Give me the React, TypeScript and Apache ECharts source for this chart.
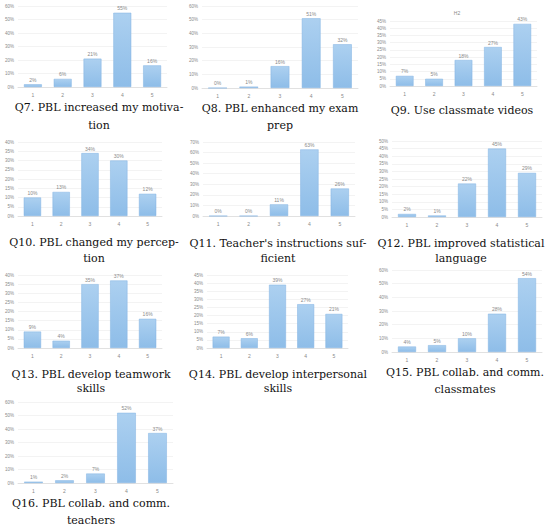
import React, { useEffect, useRef } from "react";
import * as echarts from "echarts";

const categories = ["1", "2", "3", "4", "5"];

const q7 = [2, 6, 21, 55, 16];
const q8 = [0, 1, 16, 51, 32];
const q9 = [7, 5, 18, 27, 43];
const q10 = [10, 13, 34, 30, 12];
const q11 = [0, 0, 11, 63, 26];
const q12 = [2, 1, 22, 45, 29];
const q13 = [9, 4, 35, 37, 16];
const q14 = [7, 6, 39, 27, 21];
const q15 = [4, 5, 10, 28, 54];
const q16 = [1, 2, 7, 52, 37];

const seriesData = [q7, q8, q9, q10, q11, q12, q13, q14, q15, q16];
const yMax = [60, 60, 45, 40, 70, 50, 40, 45, 60, 60];
const yStep = [10, 10, 5, 5, 10, 5, 5, 5, 10, 10];

const titles = [
  ["Q7. PBL increased my motiva-", "tion"],
  ["Q8. PBL enhanced my exam", "prep"],
  ["Q9. Use classmate videos"],
  ["Q10. PBL changed my percep-", "tion"],
  ["Q11. Teacher's instructions suf-", "ficient"],
  ["Q12. PBL improved statistical", "language"],
  ["Q13. PBL develop teamwork", "skills"],
  ["Q14. PBL develop interpersonal", "skills"],
  ["Q15. PBL collab. and comm.", "classmates"],
  ["Q16. PBL collab. and comm.", "teachers"],
];

// layout: grid [left, top, width, height], title center x, title line ys
const grids = [
  [18, 6, 149, 81],
  [202, 6, 156, 82],
  [390, 21, 147, 65],
  [18, 142, 144, 74],
  [203, 142, 152, 74],
  [392, 141, 150, 76],
  [18, 275, 144, 73],
  [207, 275, 141, 73],
  [392, 270, 150, 82],
  [18, 402, 155, 81],
];
const titleX = [99, 280, 462, 94, 278, 461, 91, 278, 465, 91];
const titleY = [
  [107, 125],
  [108, 125],
  [110],
  [242, 258],
  [243, 258],
  [243, 258],
  [374, 388],
  [374, 388],
  [372, 389],
  [503, 520],
];

export default function App() {
  const ref = useRef<HTMLDivElement>(null);
  useEffect(() => {
    if (!ref.current) return;
    const chart = echarts.init(ref.current, undefined, { renderer: "svg" });
    const labelColor = "#8a8a8a";
    const smallFont = "Liberation Sans";
    const barColor = new echarts.graphic.LinearGradient(0, 0, 0, 1, [
      { offset: 0, color: "#acd0f0" },
      { offset: 1, color: "#8ebde8" },
    ]);
    const option: any = {
      animation: false,
      backgroundColor: "#ffffff",
      grid: grids.map((g) => ({ left: g[0], top: g[1], width: g[2], height: g[3], containLabel: false })),
      xAxis: grids.map((_, i) => ({
        type: "category",
        gridIndex: i,
        data: categories,
        axisLine: { lineStyle: { color: "#d9d9d9", width: 0.7 } },
        axisTick: { show: false },
        axisLabel: { fontSize: 5, color: labelColor, fontFamily: smallFont, margin: 5 },
      })),
      yAxis: grids.map((_, i) => ({
        type: "value",
        gridIndex: i,
        min: 0,
        max: yMax[i],
        interval: yStep[i],
        axisLine: { show: false },
        axisTick: { show: false },
        splitLine: { lineStyle: { color: "#ebebeb", width: 0.6 } },
        axisLabel: { fontSize: 4.5, color: labelColor, fontFamily: smallFont, margin: 4, formatter: "{value}%" },
      })),
      series: seriesData.map((d, i) => ({
        type: "bar",
        xAxisIndex: i,
        yAxisIndex: i,
        data: d,
        barWidth: "60%",
        itemStyle: { color: barColor, borderColor: "#80b3e2", borderWidth: 0.5 },
        label: {
          show: true,
          position: "top",
          distance: 2,
          fontSize: 5,
          color: labelColor,
          fontFamily: smallFont,
          formatter: "{c}%",
        },
      })),
      graphic: [
        ...titles.flatMap((lines, i) =>
          lines.map((t, j) => ({
            type: "text",
            x: titleX[i],
            y: titleY[i][j],
            style: {
              text: t,
              fontSize: 11,
              fontFamily: "DejaVu Serif",
              fill: "#111111",
              align: "center",
              verticalAlign: "middle",
            },
          }))
        ),
        {
          type: "text",
          x: 457,
          y: 13,
          style: {
            text: "H2",
            fontSize: 5,
            fontFamily: smallFont,
            fill: labelColor,
            align: "center",
            verticalAlign: "middle",
          },
        },
      ],
    };
    chart.setOption(option);
    return () => chart.dispose();
  }, []);
  return (
    <div
      ref={ref}
      style={{ position: "fixed", left: 0, top: 0, width: 550, height: 528, background: "#fff" }}
    />
  );
}
